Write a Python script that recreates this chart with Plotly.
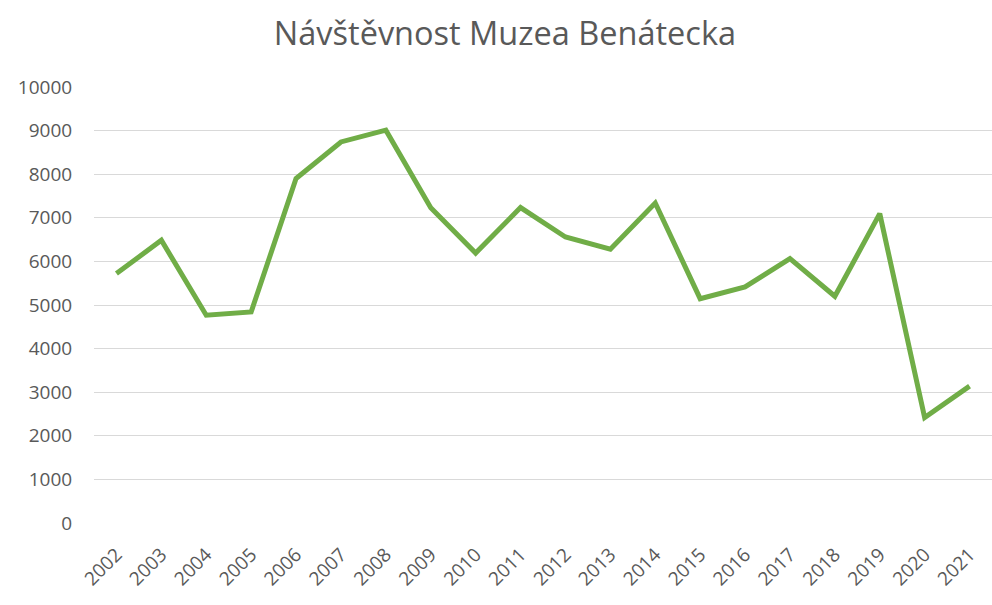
import plotly.graph_objects as go

years = ["2002", "2003", "2004", "2005", "2006", "2007", "2008", "2009", "2010", "2011",
         "2012", "2013", "2014", "2015", "2016", "2017", "2018", "2019", "2020", "2021"]
visitors = [5720, 6485, 4765, 4840, 7900, 8740, 9010, 7230, 6190, 7235,
            6560, 6280, 7340, 5145, 5415, 6065, 5200, 7095, 2420, 3140]
y_ticks = [0, 1000, 2000, 3000, 4000, 5000, 6000, 7000, 8000, 9000, 10000]
title_text = "Návštěvnost Muzea Benátecka"

fig = go.Figure()
fig.add_trace(go.Scatter(
    x=years, y=visitors, mode="lines",
    line=dict(color="#70AD47", width=5, shape="linear"),
    hoverinfo="x+y",
))

fig.update_layout(
    width=992, height=605,
    paper_bgcolor="white", plot_bgcolor="white",
    margin=dict(l=94, r=0, t=87, b=82),
    title=dict(text=title_text, x=0.509, xanchor="center", y=0.945, yanchor="middle",
               font=dict(family="Open Sans, sans-serif", size=32.5, color="#595959")),
    font=dict(family="Open Sans, sans-serif", size=19, color="#595959"),
    showlegend=False,
    xaxis=dict(
        type="category", range=[-0.5, 19.5],
        tickangle=-45, showgrid=False, zeroline=False, showline=False,
        ticks="outside", ticklen=12, tickcolor="rgba(0,0,0,0)",
        tickfont=dict(size=19, color="#595959"),
        automargin=False,
    ),
    yaxis=dict(
        range=[0, 10000], tickvals=y_ticks, ticktext=[str(v) for v in y_ticks],
        showgrid=True, gridcolor="#D9D9D9", gridwidth=1,
        zeroline=False, showline=False,
        ticks="outside", ticklen=17, tickcolor="rgba(0,0,0,0)",
        tickfont=dict(size=19, color="#595959"),
        automargin=False,
    ),
)

fig.write_html("out.html", config={"displayModeBar": False},
               post_script="document.body.style.margin='0';document.body.style.overflow='hidden';")
